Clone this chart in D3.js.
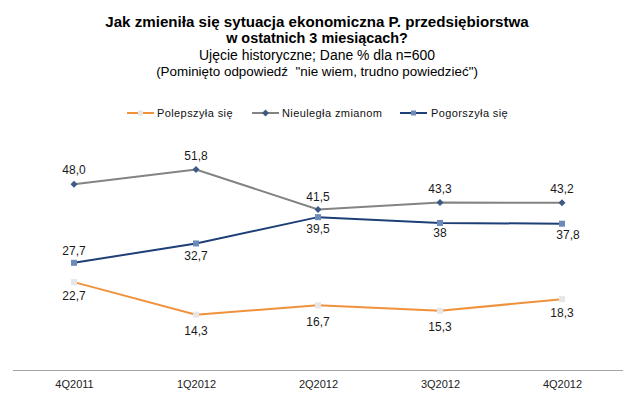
<!DOCTYPE html>
<html><head><meta charset="utf-8">
<script src="https://cdn.jsdelivr.net/npm/d3@7"></script>
<style>body{margin:0;background:#fff;font-family:"Liberation Sans",Arial,sans-serif;}</style>
</head><body><svg id="c" width="640" height="403"></svg>
<script>
const categories = ["4Q2011","1Q2012","2Q2012","3Q2012","4Q2012"];
const seriesNames = ["Polepszyła się","Nieuległa zmianom","Pogorszyła się"];
const polepszyla = [22.7,14.3,16.7,15.3,18.3];
const nieulegla = [48.0,51.8,41.5,43.3,43.2];
const pogorszyla = [27.7,32.7,39.5,38.0,37.8];
const labelsPolepszyla = ["22,7","14,3","16,7","15,3","18,3"];
const labelsNieulegla = ["48,0","51,8","41,5","43,3","43,2"];
const labelsPogorszyla = ["27,7","32,7","39,5","38","37,8"];
const titleLines = ["Jak zmieniła się sytuacja ekonomiczna P. przedsiębiorstwa","w ostatnich 3 miesiącach?","Ujęcie historyczne; Dane % dla n=600","(Pominięto odpowiedź  \"nie wiem, trudno powiedzieć\")"];

const svg = d3.select("#c");
const x = d3.scalePoint().domain(categories).range([13,623]).padding(0.5);
const y = d3.scaleLinear().domain([0,60]).range([370,137.8]);

// title
const tStyles = [
 {y:27,w:"bold",s:14,tw:424},{y:43,w:"bold",s:14,tw:182},{y:60,w:"normal",s:13,tw:236},{y:76,w:"normal",s:13,tw:322}];
titleLines.forEach((t,i)=>{
  const el = svg.append("text").attr("x",317).attr("y",tStyles[i].y).attr("text-anchor","middle")
    .attr("font-size",tStyles[i].s).attr("font-weight",tStyles[i].w).attr("fill","#000")
    .attr("xml:space","preserve").style("white-space","pre").text(t);
  const w = el.node().getComputedTextLength();
  if (w>0) el.attr("font-size", Math.max(11, Math.min(16, tStyles[i].s*tStyles[i].tw/w)));
});

// axis
const ax = svg.append("g").attr("transform","translate(0,370)").call(d3.axisBottom(x).tickSize(0).tickPadding(10));
ax.select(".domain").attr("stroke","#a6a6a6").attr("stroke-width",1.2).attr("d","M13,0.5H623");
ax.selectAll("text").attr("font-size",11).attr("fill","#222").attr("font-family","Liberation Sans, Arial, sans-serif").attr("dy","0.7em");

const series = [
 {vals:polepszyla, labels:labelsPolepszyla, color:"#f0923c", marker:"circle", mcol:"#e6e6e6", off:[14,16,16,16,14]},
 {vals:nieulegla, labels:labelsNieulegla, color:"#838383", marker:"diamond", mcol:"#3d5a85", off:[-14,-14,-13,-14,-14]},
 {vals:pogorszyla, labels:labelsPogorszyla, color:"#1f3f77", marker:"square", mcol:"#6d8bb8", off:[-12,12,12,10,11]}
];
const dx = [[0,0,0,0,0],[0,0,0,0,0],[0,0,0,0,6]];
const line = d3.line().x((d,i)=>x(categories[i])).y(d=>y(d));
series.forEach((s,si)=>{
  svg.append("path").datum(s.vals).attr("d",line).attr("fill","none").attr("stroke",s.color).attr("stroke-width",2);
  s.vals.forEach((v,i)=>{
    const cx=x(categories[i]), cy=y(v);
    if(s.marker==="diamond"){
      svg.append("path").attr("d",`M${cx},${cy-3.5}L${cx+3.5},${cy}L${cx},${cy+3.5}L${cx-3.5},${cy}Z`).attr("fill",s.mcol);
    } else {
      svg.append("rect").attr("x",cx-3).attr("y",cy-3).attr("width",6).attr("height",6).attr("fill",s.mcol);
    }
    svg.append("text").attr("x",cx+dx[si][i]).attr("y",cy+s.off[i]).attr("dy","0.35em").attr("text-anchor","middle")
      .attr("font-size",12).attr("fill","#1a1a1a").text(s.labels[i]);
  });
});

// legend
const leg = [{x:127,tx:157},{x:252,tx:282},{x:400,tx:431}];
series.forEach((s,i)=>{
  const g = svg.append("g");
  g.append("line").attr("x1",leg[i].x).attr("x2",leg[i].x+27).attr("y1",113).attr("y2",113).attr("stroke",s.color).attr("stroke-width",2);
  const cx=leg[i].x+13.5;
  if(s.marker==="diamond") g.append("path").attr("d",`M${cx},109.5L${cx+3.5},113L${cx},116.5L${cx-3.5},113Z`).attr("fill",s.mcol);
  else g.append("rect").attr("x",cx-2.5).attr("y",110.5).attr("width",5).attr("height",5).attr("fill",s.mcol);
  g.append("text").attr("x",leg[i].tx).attr("y",113).attr("dy","0.35em").attr("font-size",11).attr("letter-spacing",0.4).attr("fill","#111").text(seriesNames[i]);
});
</script></body></html>
